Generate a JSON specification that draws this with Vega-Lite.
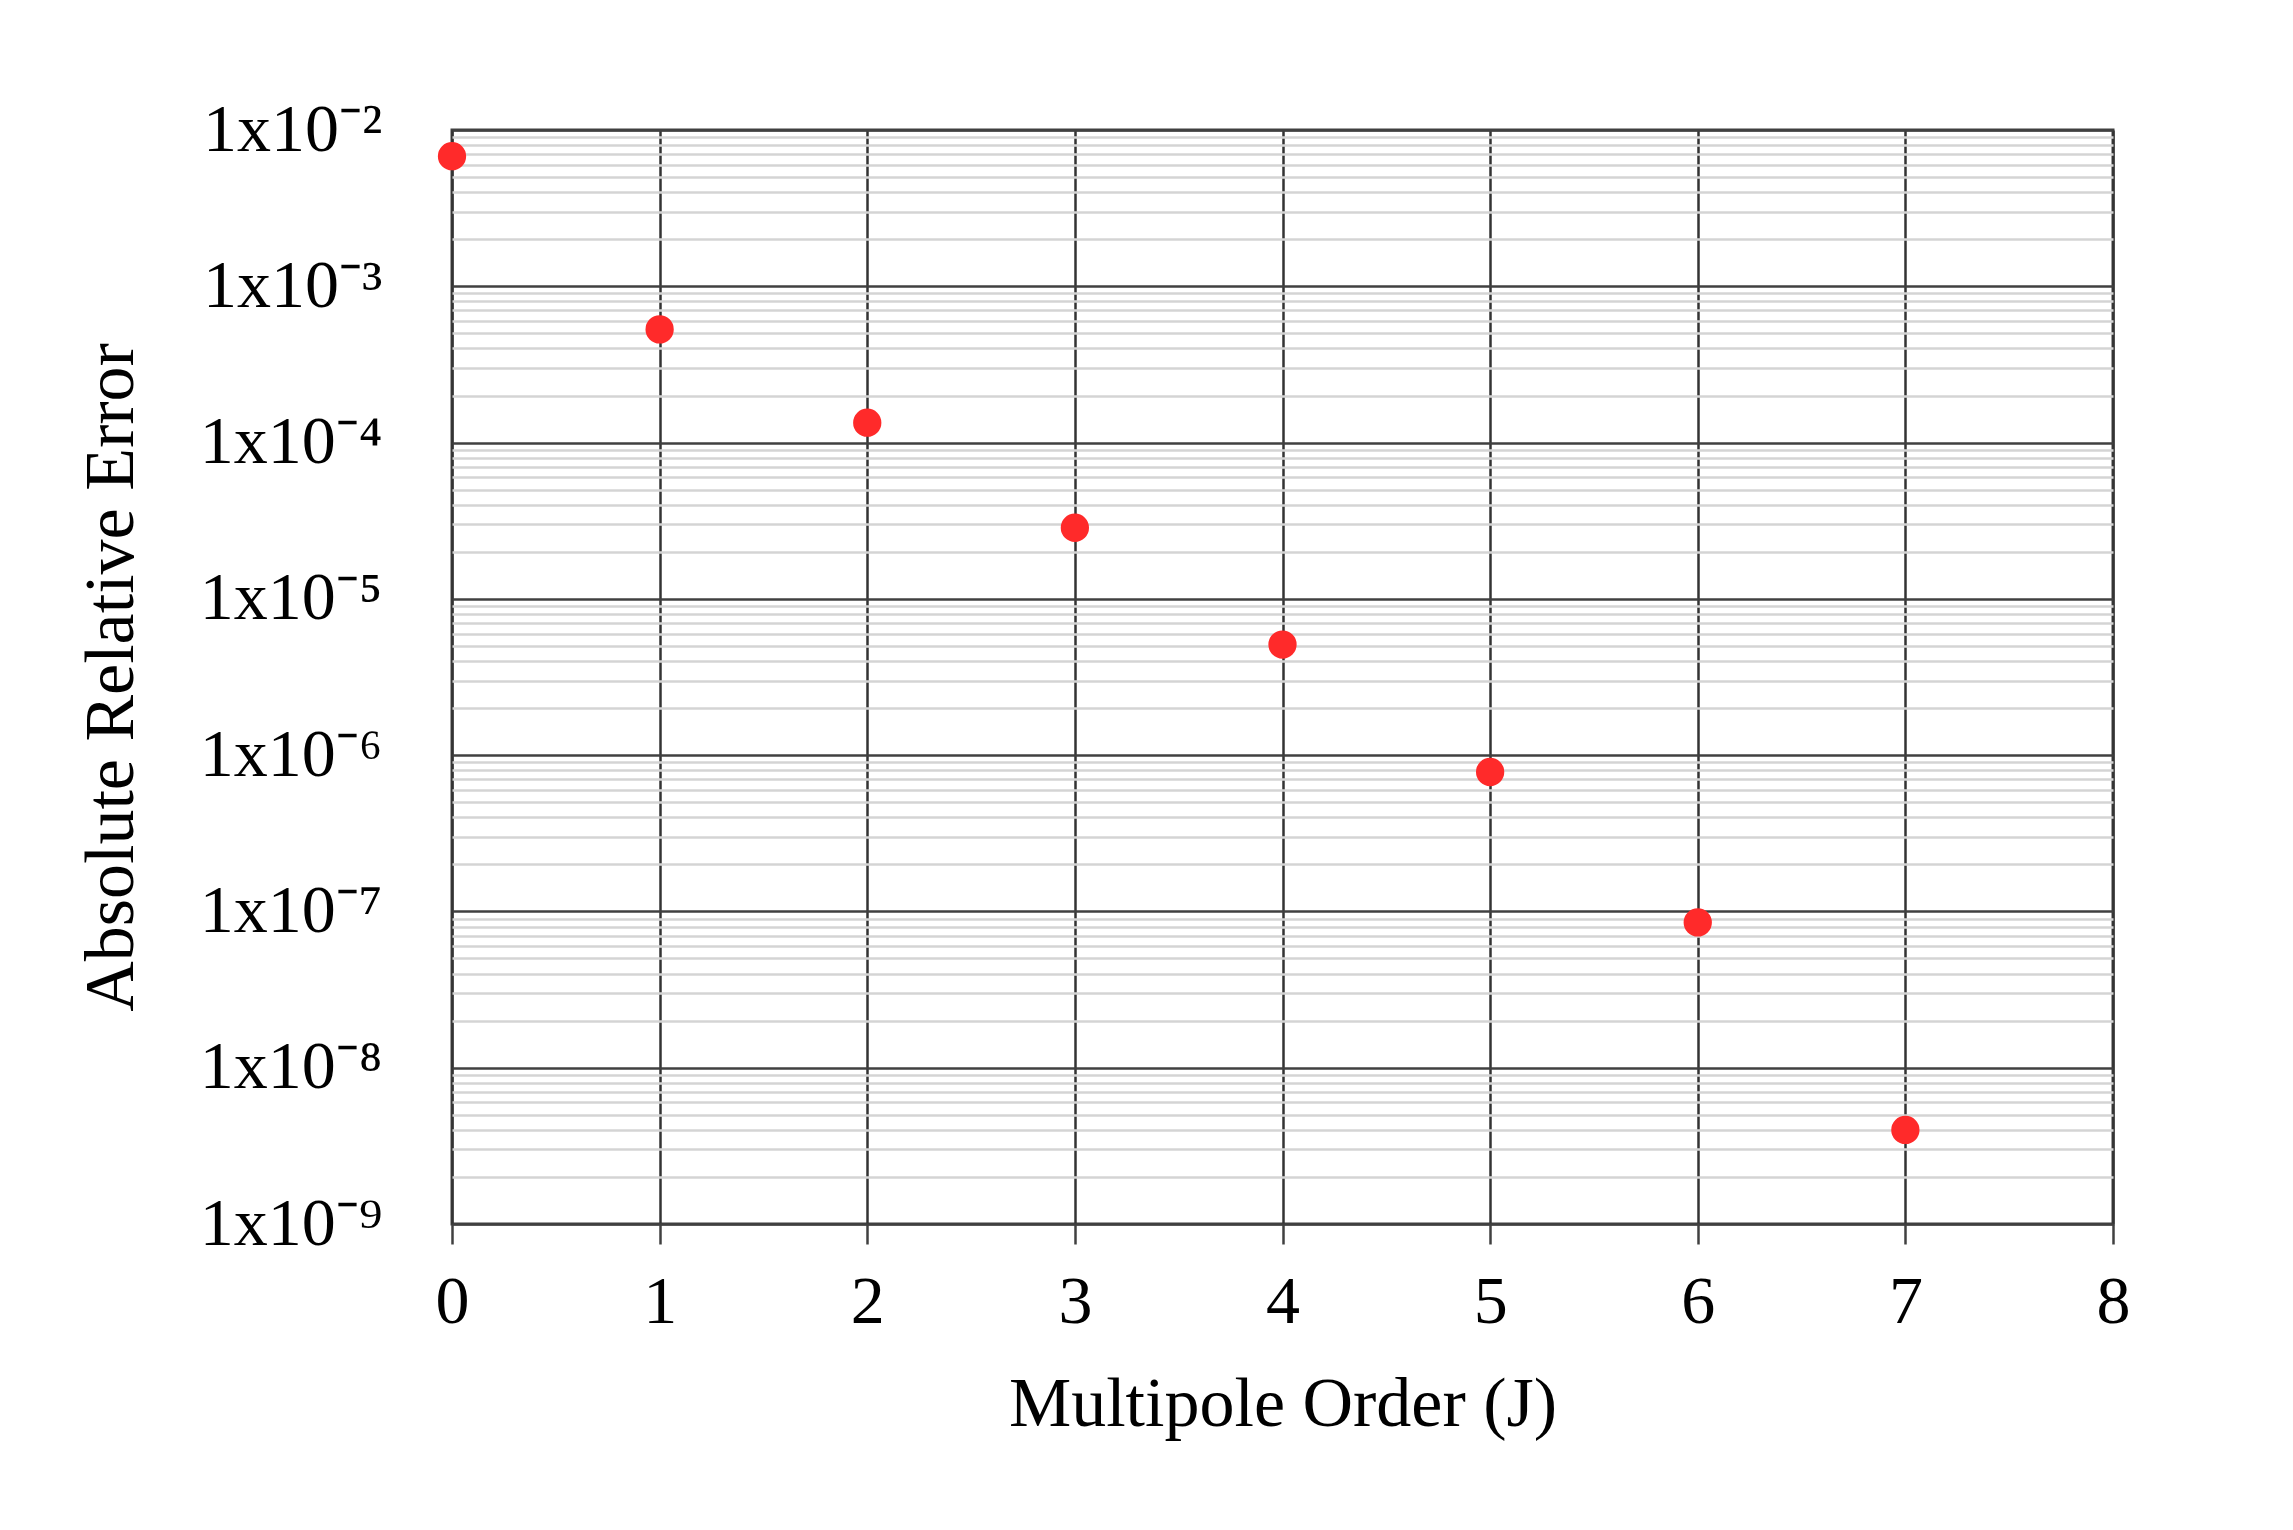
{
  "$schema": "https://vega.github.io/schema/vega-lite/v6.json",
  "width": 1661,
  "height": 1094,
  "autosize": {"type": "none"},
  "padding": {"left": 452, "top": 130, "right": 180, "bottom": 306},
  "background": "white",
  "data": {
    "values": [
      {"J": 0, "error": 6.8e-3},
      {"J": 1, "error": 5.3e-4},
      {"J": 2, "error": 1.34e-4},
      {"J": 3, "error": 2.85e-5},
      {"J": 4, "error": 5.1e-6},
      {"J": 5, "error": 7.8e-7},
      {"J": 6, "error": 8.5e-8},
      {"J": 7, "error": 4.0e-9}
    ]
  },
  "mark": {"type": "circle", "size": 800, "color": "#ff2a2a", "opacity": 1, "clip": false},
  "encoding": {
    "x": {
      "field": "J",
      "type": "quantitative",
      "scale": {"domain": [0, 8], "nice": false, "zero": false},
      "axis": {
        "title": "Multipole Order (J)",
        "values": [0, 1, 2, 3, 4, 5, 6, 7, 8],
        "format": "d",
        "domain": false,
        "ticks": true,
        "tickSize": 20,
        "tickColor": "#404040",
        "tickWidth": 2.5,
        "grid": true,
        "gridColor": "#333333",
        "gridWidth": 2.5,
        "labelFont": "Liberation Serif",
        "labelFontSize": 68,
        "labelColor": "black",
        "labelPadding": 24,
        "labelFlush": false,
        "labelOverlap": false,
        "titleFont": "Liberation Serif",
        "titleFontSize": 70,
        "titleFontWeight": "normal",
        "titleColor": "black",
        "titlePadding": 34
      }
    },
    "y": {
      "field": "error",
      "type": "quantitative",
      "scale": {"type": "log", "domain": [1e-9, 1e-2], "nice": false},
      "axis": {
        "title": "Absolute Relative Error",
        "tickCount": 100,
        "ticks": false,
        "tickSize": 0,
        "domain": false,
        "grid": true,
        "gridColor": {
          "condition": {"test": "abs(log(datum.value)/LN10 - round(log(datum.value)/LN10)) < 0.001", "value": "#404040"},
          "value": "#d4d4d4"
        },
        "gridWidth": 2.7,
        "labelExpr": "abs(log(datum.value)/LN10 - round(log(datum.value)/LN10)) < 0.001 ? '1x10⁻' + ['⁰','¹','²','³','⁴','⁵','⁶','⁷','⁸','⁹'][-round(log(datum.value)/LN10)] : ''",
        "labelFont": "Liberation Serif",
        "labelFontSize": 68,
        "labelColor": "black",
        "labelPadding": 70,
        "labelLimit": 0,
        "labelFlush": false,
        "labelOverlap": false,
        "labelBaseline": "middle",
        "titleFont": "Liberation Serif",
        "titleFontSize": 70,
        "titleFontWeight": "normal",
        "titleColor": "black",
        "titlePadding": 105
      }
    }
  },
  "config": {"view": {"stroke": "#404040", "strokeWidth": 3}}
}
